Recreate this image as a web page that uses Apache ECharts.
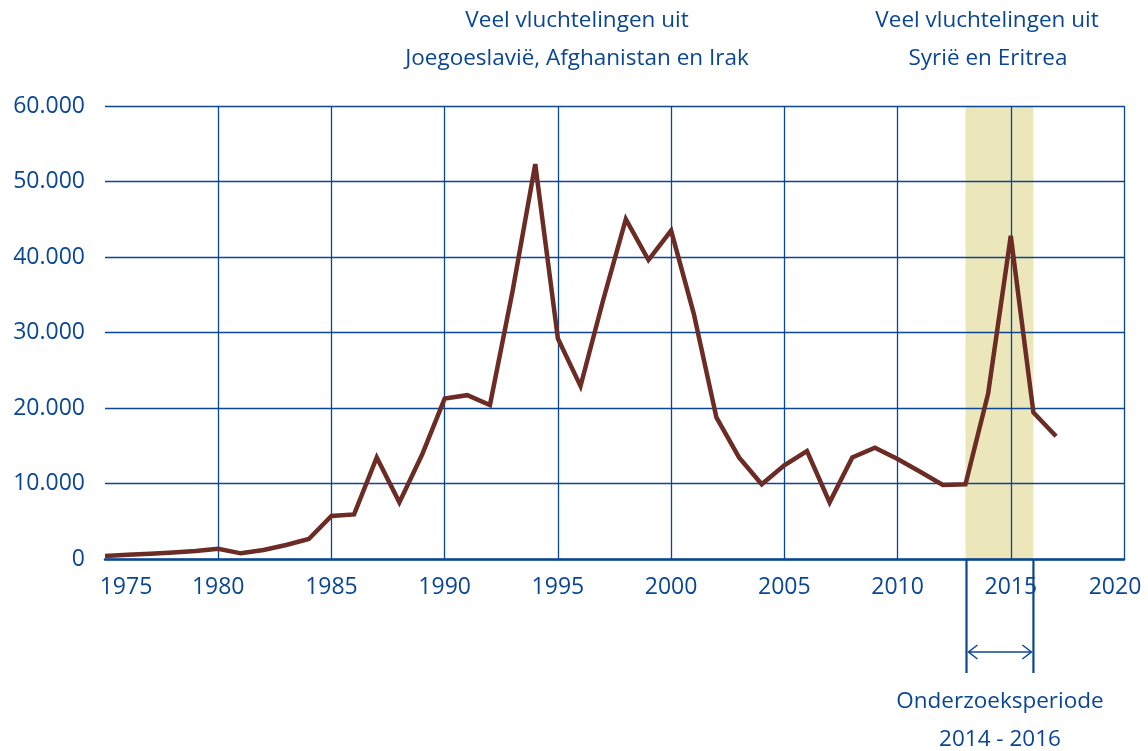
<!DOCTYPE html>
<html>
<head>
<meta charset="utf-8">
<script src="https://cdn.jsdelivr.net/npm/echarts@6/dist/echarts.min.js"></script>
<style>
html,body{margin:0;padding:0;background:#fff;}
#chart{width:1148px;height:751px;}
</style>
</head>
<body>
<div id="chart"></div>
<script>
// Data
const years = [1975,1976,1977,1978,1979,1980,1981,1982,1983,1984,1985,1986,1987,1988,1989,1990,1991,1992,1993,1994,1995,1996,1997,1998,1999,2000,2001,2002,2003,2004,2005,2006,2007,2008,2009,2010,2011,2012,2013,2014,2015,2016,2017];
const asylumRequests = [400,550,700,850,1050,1350,750,1200,1850,2650,5700,5900,13450,7500,13800,21250,21700,20400,35500,52300,29200,22900,34300,45000,39600,43500,32500,18750,13450,9900,12400,14300,7500,13450,14750,13250,11550,9800,9900,21900,42800,19400,16250];
const yTicks = [0,10000,20000,30000,40000,50000,60000];
const xTicks = [1975,1980,1985,1990,1995,2000,2005,2010,2015,2020];
const researchPeriod = [2013, 2016];
const annotationLeft = ['Veel vluchtelingen uit', 'Joegoeslavië, Afghanistan en Irak'];
const annotationRight = ['Veel vluchtelingen uit', 'Syrië en Eritrea'];
const periodLabel = ['Onderzoeksperiode', '2014 - 2016'];

const BLUE = '#0a4694';
const LINE = '#6b2c25';
const BAND = '#ece7bb';
const FONT = 'Open Sans';

const chart = echarts.init(document.getElementById('chart'), null, {renderer: 'canvas'});

function fmtY(v){
  if (v === 0) return '0';
  return (v/1000) + '.000';
}

const option = {
  animation: false,
  backgroundColor: '#fff',
  grid: {left: 105, right: 24, top: 106, bottom: 192, containLabel: false},
  xAxis: {
    type: 'value',
    min: xTicks[0],
    max: xTicks[xTicks.length-1],
    interval: 5,
    z: 3,
    axisLine: {show: true, lineStyle: {color: BLUE, width: 2.5}},
    axisTick: {show: false},
    splitLine: {show: true, showMinLine: false, lineStyle: {color: BLUE, width: 1.3}},
    axisLabel: {
      margin: 17,
      color: BLUE,
      fontFamily: FONT,
      fontSize: 23,
      fontWeight: 500,
      formatter: function(v){
        if (v === xTicks[0]) return '{first|' + v + '}';
        if (v === xTicks[xTicks.length-1]) return '{last|' + v + '}';
        return '{n|' + v + '}';
      },
      rich: {
        n: {fontFamily: FONT, fontSize: 23, fontWeight: 500, color: BLUE},
        first: {fontFamily: FONT, fontSize: 23, fontWeight: 500, color: BLUE, padding: [0,0,0,42]},
        last: {fontFamily: FONT, fontSize: 23, fontWeight: 500, color: BLUE, padding: [0,18,0,0]}
      }
    }
  },
  yAxis: {
    type: 'value',
    min: yTicks[0],
    max: yTicks[yTicks.length-1],
    interval: 10000,
    z: 3,
    axisLine: {show: false},
    axisTick: {show: false},
    splitLine: {show: true, lineStyle: {color: BLUE, width: 1.3}},
    axisLabel: {
      margin: 20,
      color: BLUE,
      fontFamily: FONT,
      fontSize: 23,
      fontWeight: 500,
      formatter: fmtY
    }
  },
  series: [
    {
      type: 'line',
      z: 1,
      data: [],
      silent: true,
      markArea: {
        silent: true,
        itemStyle: {color: BAND, opacity: 1},
        data: [[{xAxis: researchPeriod[0]}, {xAxis: researchPeriod[1]}]]
      }
    },
    {
      type: 'line',
      z: 5,
      data: years.map((y,i) => [y, asylumRequests[i]]),
      showSymbol: false,
      symbol: 'none',
      lineStyle: {color: LINE, width: 4.5, join: 'miter', miterLimit: 4},
      silent: true
    }
  ]
};
chart.setOption(option);

// Annotations positioned relative to the axes
const p0 = chart.convertToPixel({xAxisIndex: 0, yAxisIndex: 0}, [researchPeriod[0], 0]);
const p1 = chart.convertToPixel({xAxisIndex: 0, yAxisIndex: 0}, [researchPeriod[1], 0]);
const bx0 = p0[0] + 1, bx1 = p1[0], by = p0[1];
const arrowY = by + 93;
const bracketBottom = by + 114;
const midX = (bx0 + bx1)/2;

const textStyle = (txt, x, y) => ({
  type: 'text',
  x: x, y: y,
  style: {text: txt, fill: BLUE, font: '500 22.5px "' + FONT + '"', align: 'center', verticalAlign: 'middle'}
});

chart.setOption({
  graphic: [
    {type: 'line', shape: {x1: bx0, y1: by, x2: bx0, y2: bracketBottom}, style: {stroke: BLUE, lineWidth: 2.2}},
    {type: 'line', shape: {x1: bx1, y1: by, x2: bx1, y2: bracketBottom}, style: {stroke: BLUE, lineWidth: 2.2}},
    {type: 'line', shape: {x1: bx0 + 2, y1: arrowY, x2: bx1 - 2, y2: arrowY}, style: {stroke: BLUE, lineWidth: 1.5}},
    {type: 'polyline', shape: {points: [[bx0 + 11, arrowY - 7], [bx0 + 2, arrowY], [bx0 + 11, arrowY + 7]]}, style: {stroke: BLUE, lineWidth: 1.5, fill: null}},
    {type: 'polyline', shape: {points: [[bx1 - 11, arrowY - 7], [bx1 - 2, arrowY], [bx1 - 11, arrowY + 7]]}, style: {stroke: BLUE, lineWidth: 1.5, fill: null}},
    textStyle(periodLabel[0], midX, 702),
    textStyle(periodLabel[1], midX, 740),
    textStyle(annotationLeft[0], 577, 21),
    textStyle(annotationLeft[1], 577, 59),
    textStyle(annotationRight[0], 987, 21),
    textStyle(annotationRight[1], 988, 59)
  ]
});
</script>
</body>
</html>
